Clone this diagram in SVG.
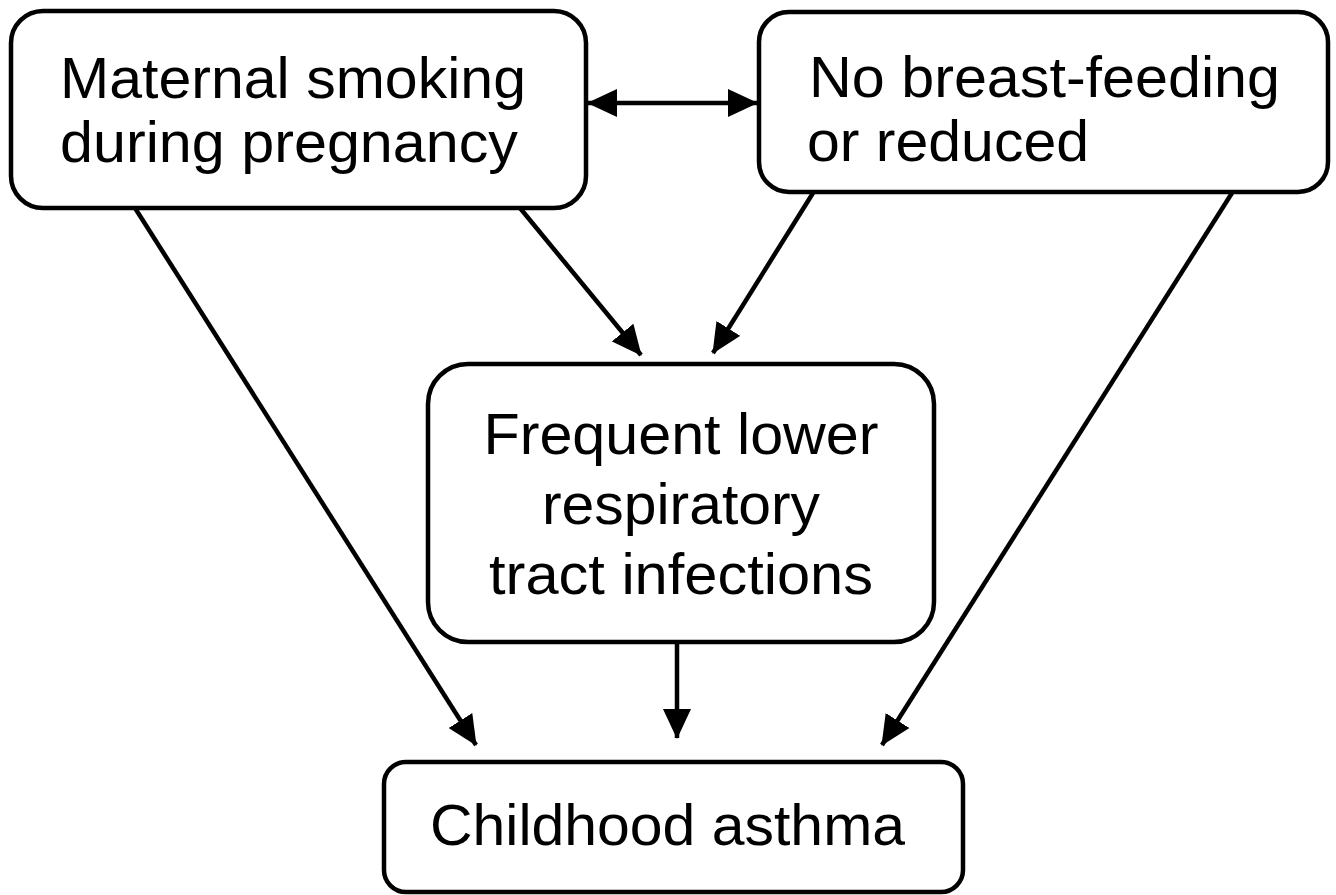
<svg xmlns="http://www.w3.org/2000/svg" width="1336" height="895" viewBox="0 0 1336 895">
<defs>
<style>
.box{fill:#fff;stroke:#000;stroke-width:4.5}
.lbl{font-family:"Liberation Sans",Arial,sans-serif;font-size:58px;fill:#000}
.mid{text-anchor:middle}
.con{stroke:#000;stroke-width:4.5;fill:none}
</style>
<marker id="ah" markerUnits="userSpaceOnUse" viewBox="0 0 30 28" refX="29" refY="14" markerWidth="30" markerHeight="28" orient="auto-start-reverse">
<path d="M0,0 L30,14 L0,28 z" fill="#000"/>
</marker>
</defs>
<rect width="1336" height="895" fill="#fff"/>
<g id="connectors">
<line class="con" x1="588" y1="103" x2="757" y2="103" marker-start="url(#ah)" marker-end="url(#ah)"/>
<line class="con" x1="520" y1="208" x2="641" y2="355" marker-end="url(#ah)"/>
<line class="con" x1="813" y1="193" x2="713" y2="353" marker-end="url(#ah)"/>
<line class="con" x1="135" y1="208" x2="476" y2="745" marker-end="url(#ah)"/>
<line class="con" x1="677" y1="642" x2="677" y2="738" marker-end="url(#ah)"/>
<line class="con" x1="1232" y1="193" x2="882" y2="745" marker-end="url(#ah)"/>
</g>
<g id="node-smoking">
<rect class="box" x="11" y="11" width="575" height="197" rx="32"/>
<text class="lbl" x="60" y="98" textLength="466" lengthAdjust="spacingAndGlyphs">Maternal smoking</text>
<text class="lbl" x="60" y="162" textLength="458" lengthAdjust="spacingAndGlyphs">during pregnancy</text>
</g>
<g id="node-breastfeeding">
<rect class="box" x="759" y="12" width="569" height="180" rx="30"/>
<text class="lbl" x="809" y="97" textLength="471" lengthAdjust="spacingAndGlyphs">No breast-feeding</text>
<text class="lbl" x="807" y="161" textLength="282" lengthAdjust="spacingAndGlyphs">or reduced</text>
</g>
<g id="node-infections">
<rect class="box" x="428" y="364" width="506" height="278" rx="40"/>
<text class="lbl mid" x="681" y="454" textLength="395" lengthAdjust="spacingAndGlyphs">Frequent lower</text>
<text class="lbl mid" x="681" y="524" textLength="278" lengthAdjust="spacingAndGlyphs">respiratory</text>
<text class="lbl mid" x="681" y="594" textLength="384" lengthAdjust="spacingAndGlyphs">tract infections</text>
</g>
<g id="node-asthma">
<rect class="box" x="384" y="762" width="579" height="130" rx="22"/>
<text class="lbl" x="430" y="845" textLength="475" lengthAdjust="spacingAndGlyphs">Childhood asthma</text>
</g>
</svg>
